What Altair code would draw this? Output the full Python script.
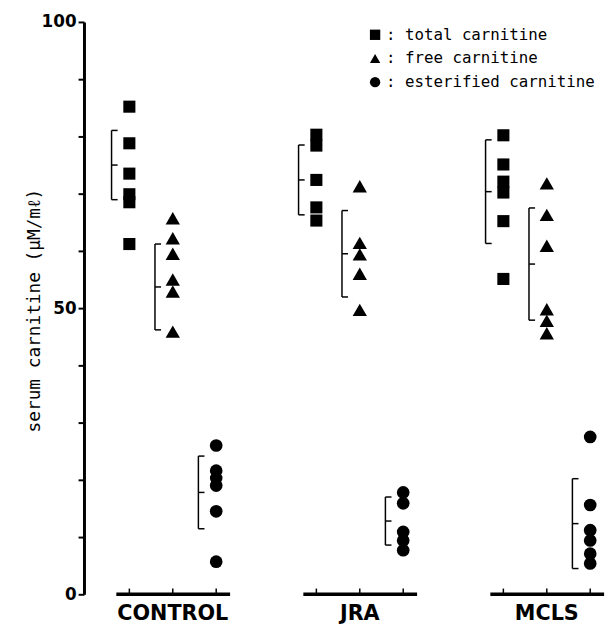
import altair as alt
import pandas as pd

# ---- data ----
groups = ["CONTROL", "JRA", "MCLS"]
series = ["total carnitine", "free carnitine", "esterified carnitine"]

control_total = [85.2, 78.8, 73.5, 69.9, 68.5, 61.2]
control_free = [65.7, 62.2, 59.5, 55.0, 52.9, 45.9]
control_ester = [26.0, 21.6, 20.3, 19.0, 14.5, 5.7]

jra_total = [80.3, 78.4, 72.4, 67.6, 65.3]
jra_free = [71.3, 61.4, 59.4, 56.0, 49.7]
jra_ester = [17.8, 15.9, 10.9, 9.4, 7.7]

mcls_total = [80.2, 75.1, 72.1, 70.2, 65.2, 55.1]
mcls_free = [71.8, 66.3, 60.9, 49.8, 47.8, 45.6]
mcls_ester = [27.5, 15.6, 11.2, 9.4, 7.1, 5.4]

# mean and SD shown by the brackets  (group x series)
means = [[75.0, 53.7, 17.8], [72.4, 59.5, 12.8], [70.35, 57.7, 12.35]]
sds = [[6.05, 7.5, 6.35], [6.1, 7.55, 4.2], [9.05, 9.8, 7.85]]

values = [
    [control_total, control_free, control_ester],
    [jra_total, jra_free, jra_ester],
    [mcls_total, mcls_free, mcls_ester],
]

# ---- layout helpers ----
GROUP_STEP = 4.307
BRACKET_OFF = -0.41
CAP_OFF = -0.27
SYMBOL_SIZES = [150, 210, 165]

pts, brk, caps, base, ticks, labs = [], [], [], [], [], []
for g, gname in enumerate(groups):
    g0 = g * GROUP_STEP
    base.append({"group": gname, "x": g0 - 0.3, "x2": g0 + 2.32})
    labs.append({"group": gname, "x": g0 + 1})
    for s, sname in enumerate(series):
        pos = g0 + s
        ticks.append({"x": pos})
        for v in values[g][s]:
            pts.append({"group": gname, "series": sname, "x": pos, "value": v})
        m, sd = means[g][s], sds[g][s]
        bx = pos + BRACKET_OFF
        brk.append({"x": bx, "lo": m - sd, "hi": m + sd})
        for yy in (m - sd, m, m + sd):
            caps.append({"x": bx, "x2": pos + CAP_OFF, "y": yy})

pts = pd.DataFrame(pts)
brk = pd.DataFrame(brk)
caps = pd.DataFrame(caps)
base = pd.DataFrame(base)
ticks = pd.DataFrame(ticks)
labs = pd.DataFrame(labs)

XDOM = [-1.045, -1.045 + 521 / 44]
xs = alt.Scale(domain=XDOM, nice=False, zero=False)
ys = alt.Scale(domain=[0, 100], nice=False, zero=True)

yaxis = alt.Axis(
    values=list(range(0, 101, 10)),
    labelExpr="datum.value % 50 == 0 ? datum.label : ''",
    grid=False,
    domainColor="black",
    domainWidth=3,
    ticks=True,
    tickColor="black",
    tickWidth=2,
    tickSize=6,
    labelPadding=2,
    labelFont="DejaVu Sans",
    labelFontWeight="bold",
    labelFontSize=17,
    labelColor="black",
    title="serum carnitine (μM/mℓ)",
    titleFont="DejaVu Sans Mono",
    titleFontWeight="normal",
    titleFontSize=18,
    titleColor="black",
    titleAngle=-90,
    titleAlign="center",
    titleBaseline="middle",
    titleX=-50,
    titleY=292,
)

xenc = alt.X("x:Q", scale=xs, axis=None)
shape_enc = alt.Shape(
    "series:N",
    scale=alt.Scale(domain=series, range=["square", "triangle-up", "circle"]),
    legend=alt.Legend(
        title=None,
        orient="none",
        legendX=287,
        legendY=5,
        labelExpr="': ' + datum.label",
        labelFont="DejaVu Sans Mono",
        labelFontSize=16,
        labelColor="black",
        labelOffset=3,
        labelLimit=300,
        symbolSize=110,
        symbolFillColor="black",
        symbolStrokeColor="black",
        symbolStrokeWidth=0,
        symbolOpacity=1,
        rowPadding=8,
        padding=0,
    ),
)

point_layers = []
for sname, sz in zip(series, SYMBOL_SIZES):
    point_layers.append(
        alt.Chart(pts)
        .transform_filter(alt.datum.series == sname)
        .mark_point(filled=True, opacity=1, size=sz, color="black")
        .encode(x=xenc, y=alt.Y("value:Q", scale=ys, axis=yaxis), shape=shape_enc)
    )

vrules = alt.Chart(brk).mark_rule(color="black", strokeWidth=1.5).encode(
    x=xenc, y=alt.Y("lo:Q", scale=ys), y2="hi:Q"
)
caprules = alt.Chart(caps).mark_rule(color="black", strokeWidth=1.5).encode(
    x=xenc, x2="x2:Q", y=alt.Y("y:Q", scale=ys)
)
baseline = alt.Chart(base).mark_rule(color="black", strokeWidth=3.5).encode(
    x=xenc, x2="x2:Q", y=alt.datum(0, scale=ys)
)
tickrules = alt.Chart(ticks).mark_rule(color="black", strokeWidth=1.5).encode(
    x=xenc, y=alt.datum(0, scale=ys), y2=alt.datum(1.0)
)
grouplabels = alt.Chart(labs).mark_text(
    font="DejaVu Sans", fontWeight="bold", fontSize=21, color="black",
    baseline="middle", align="center", dy=20,
).encode(x=xenc, y=alt.datum(0, scale=ys), text="group:N")

chart = alt.layer(
    vrules, caprules, baseline, tickrules, grouplabels, *point_layers
).properties(
    width=521,
    height=580,
    autosize=alt.AutoSizeParams(type="none"),
    padding={"left": 77, "top": 10, "right": 8, "bottom": 30},
).configure_view(stroke=None)

chart.save("out.html", embed_options={"renderer": "svg", "actions": False})
